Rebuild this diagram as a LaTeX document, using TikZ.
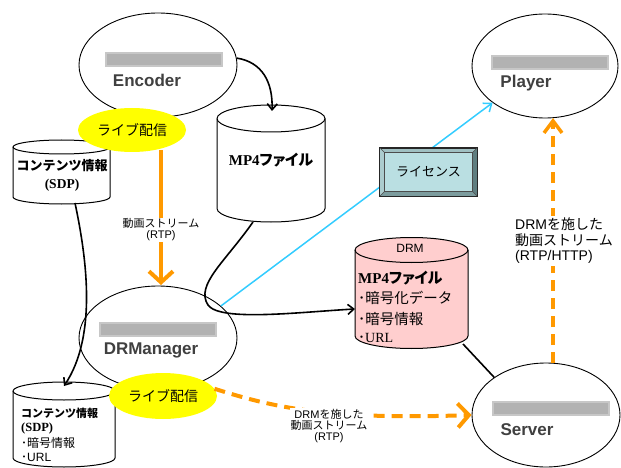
\documentclass[tikz,border=0pt]{standalone}
\usepackage{fontspec}
\setmainfont{Liberation Serif}
\setsansfont{Liberation Sans}
\newfontfamily\jp{Noto Sans CJK JP}
\newfontfamily\jpp[RawFeature=+palt]{Noto Sans CJK JP}
\usetikzlibrary{shapes.geometric,arrows.meta,calc}

\definecolor{streamorange}{RGB}{255,153,0}
\definecolor{liveyellow}{RGB}{255,255,0}
\definecolor{keycyan}{RGB}{51,204,255}
\definecolor{drmpink}{RGB}{255,206,206}
\definecolor{namegray}{RGB}{64,64,64}
\definecolor{licface}{RGB}{186,223,226}
\definecolor{bevtop}{RGB}{160,192,194}
\definecolor{bevleft}{RGB}{172,204,206}
\definecolor{bevright}{RGB}{96,126,128}
\definecolor{bevbottom}{RGB}{124,156,158}

\newcommand\fsz[1]{\fontsize{#1}{#1}\selectfont}
\newcommand\J[1]{{\jp #1}}
% database drum: name, centre x, x radius, top rim y, bottom rim y, rim y radius, fill
\newcommand\drum[7]{%
  \filldraw[fill=#7, draw=black, line width=1pt]
    ({#2-#3},#4) -- ({#2-#3},#5)
    arc[start angle=180, end angle=360, x radius=#3pt, y radius=#6pt]
    -- ({#2+#3},#4)
    arc[start angle=0, end angle=180, x radius=#3pt, y radius=#6pt] -- cycle;
  \draw[line width=1pt] ({#2-#3},#4)
    arc[start angle=180, end angle=360, x radius=#3pt, y radius=#6pt];
  \coordinate (#1) at (#2,{(#4+#5)/2});
}

\begin{document}
\begin{tikzpicture}[x=1pt,y=-1pt,
  role/.style={ellipse, draw=black, line width=0.9pt, fill=white,
    minimum height=104pt, inner sep=0pt},
  live/.style={ellipse, fill=liveyellow, inner sep=0pt, font=\jp\fsz{14}},
  nametxt/.style={font=\sffamily\bfseries\fsz{17}, text=namegray, inner sep=0pt},
  blurbar/.style={fill=black!30, draw=black!22, line width=2pt,
    minimum width=116pt, minimum height=13pt, inner sep=0pt},
  wire/.style={line width=1.6pt, black},
  wiretip/.style={wire, -{Straight Barb[length=6pt,width=10pt]}},
  keyline/.style={line width=1.5pt, keycyan, -{Straight Barb[length=7pt,width=11pt]}},
  stream/.style={line width=4pt, streamorange,
    -{Straight Barb[length=11pt,width=24pt]}},
  drmstream/.style={stream, dash pattern=on 11pt off 7pt},
  lbl/.style={fill=white, inner sep=1pt, align=center},
  txt/.style={inner sep=0pt},
]
\useasboundingbox (0,0) rectangle (621,468);
\clip (0,0) rectangle (621,468);

% system components
\node[role, minimum width=158pt] (enc) at (158,65) {};
\node[role, minimum width=146pt] (plr) at (545,66) {};
\node[role, minimum width=158pt] (mgr) at (158,338) {};
\node[role, minimum width=148pt] (srv) at (546,415) {};

% storage drums
\drum{sdp}{61.5}{48.5}{147}{197}{7}{white}
\drum{mp4}{271}{54}{118.5}{208.5}{13.5}{white}
\drum{drm}{411.5}{56.5}{250}{336}{12.5}{drmpink}
\drum{sdpb}{64}{51}{391}{458}{9}{white}

% live distribution badges
\node[live, minimum width=108pt, minimum height=44pt] (live1) at (132,130) {ライブ配信};
\node[live, minimum width=108pt, minimum height=46pt] (live2) at (163,396) {ライブ配信};

% connector end points
\coordinate (mp4in) at (272,111);
\coordinate (mp4out) at (253,222);
\coordinate (sdpout) at (75,203);
\coordinate (sdpbin) at (64,386);
\coordinate (drmin) at (355,309);
\coordinate (drmout) at (463,344);
\coordinate (rtpfrom) at (161,150);
\coordinate (rtpto) at (161,285);
\coordinate (srvtop) at (553,363);
\coordinate (plrbot) at (553,118);

% black data links
\draw[wiretip] (enc.5) .. controls (262,62) and (273,82) .. (mp4in);
\draw[wiretip] (sdpout) .. controls (86,255) and (98,335) .. (sdpbin);
\draw[wiretip] (mp4out) .. controls (225,262) and (195,285) .. (208,305)
  .. controls (220,322) and (300,312) .. (drmin);
\draw[wire] (drmout) -- (srv.144);

% licence delivery
\draw[keyline] (mgr.27) -- (plr.215);

% media streams
\draw[stream] (rtpfrom) -- (rtpto);
\node[lbl, font=\jp\fsz{11}] (rtplbl) at (161,230) {動画ストリーム\\{\sffamily (RTP)}};

\draw[drmstream] (live2.8) .. controls (275,408) and (330,420) .. (srv.west);
\node[lbl, font=\fsz{11}] (drmlbl) at (329,426)
  {{\sffamily DRM}\J{を施した}\\\J{動画ストリーム}\\{\sffamily (RTP)}};

\draw[drmstream, line width=3.5pt, -{Straight Barb[length=12pt,width=18pt]}]
  (srvtop) -- (plrbot);
\node[lbl, font=\fsz{14}, align=left, anchor=west, inner sep=2pt] (httplbl) at (513,241)
  {{\sffamily DRM}\J{を施した}\\[2pt]\J{動画ストリーム}\\[1pt]{\sffamily (RTP/HTTP)}};

% licence key box
\node[draw=black!85, line width=0.8pt, fill=bevtop, minimum width=97pt,
  minimum height=48pt, inner sep=0pt] (lic) at (428.5,172) {};
\fill[bevleft] (lic.north west) -- ($(lic.north west)+(5,5)$)
  -- ($(lic.south west)+(5,-5)$) -- (lic.south west) -- cycle;
\fill[bevright] (lic.north east) -- ($(lic.north east)+(-5,5)$)
  -- ($(lic.south east)+(-5,-5)$) -- (lic.south east) -- cycle;
\fill[bevbottom] (lic.south west) -- ($(lic.south west)+(5,-5)$)
  -- ($(lic.south east)+(-5,-5)$) -- (lic.south east) -- cycle;
\draw[black!70, line width=0.5pt, fill=licface]
  ($(lic.north west)+(5,5)$) rectangle ($(lic.south east)+(-5,-5)$);
\draw[black!70, line width=0.5pt]
  (lic.north west) -- ($(lic.north west)+(5,5)$)
  (lic.north east) -- ($(lic.north east)+(-5,5)$)
  (lic.south west) -- ($(lic.south west)+(5,-5)$)
  (lic.south east) -- ($(lic.south east)+(-5,-5)$);
\draw[black!85, line width=0.8pt] (lic.north west) rectangle (lic.south east);
\node[txt, font=\jp\fsz{13}] (lictxt) at (lic) {ライセンス};

% component names
\node[blurbar] (encbar) at (164,60) {};
\node[nametxt] (encname) at (147,80) {Encoder};
\node[blurbar] (plrbar) at (550,63) {};
\node[nametxt] (plrname) at (526,83) {Player};
\node[blurbar] (mgrbar) at (158,329) {};
\node[nametxt] (mgrname) at (151,350) {DRManager};
\node[blurbar] (srvbar) at (551,408) {};
\node[nametxt] (srvname) at (527,430) {Server};

% drum contents
\node[txt, font=\jp\bfseries\fsz{13}] (sdpt1) at (62,166) {コンテンツ情報};
\node[txt, font=\bfseries\fsz{13.5}] (sdpt2) at (62,185) {(SDP)};

\node[txt, font=\bfseries\fsz{15}] (mp4t) at (271,160) {MP4{\jpp ファイル}};

\node[txt, font=\sffamily\fsz{12}] (drmt0) at (410,248) {DRM};
\node[txt, anchor=west, font=\bfseries\fsz{15}] (drmt1) at (358,278) {MP4{\jpp ファイル}};
\node[txt, anchor=west, font=\jp\fsz{14.5}] (drmt2) at (358,298) {･暗号化データ};
\node[txt, anchor=west, font=\jp\fsz{14.5}] (drmt3) at (358,319) {･暗号情報};
\node[txt, anchor=west, font=\fsz{14}] (drmt4) at (358,338) {\J{･}URL};

\node[txt, anchor=west, font=\jp\bfseries\fsz{11}] (sdpb1) at (21,413) {コンテンツ情報};
\node[txt, anchor=west, font=\bfseries\fsz{12.5}] (sdpb2) at (21,428) {(SDP)};
\node[txt, anchor=west, font=\jp\fsz{12}] (sdpb3) at (21,443) {･暗号情報};
\node[txt, anchor=west, font=\sffamily\fsz{12}] (sdpb4) at (21,457) {\J{･}URL};
\end{tikzpicture}
\end{document}
